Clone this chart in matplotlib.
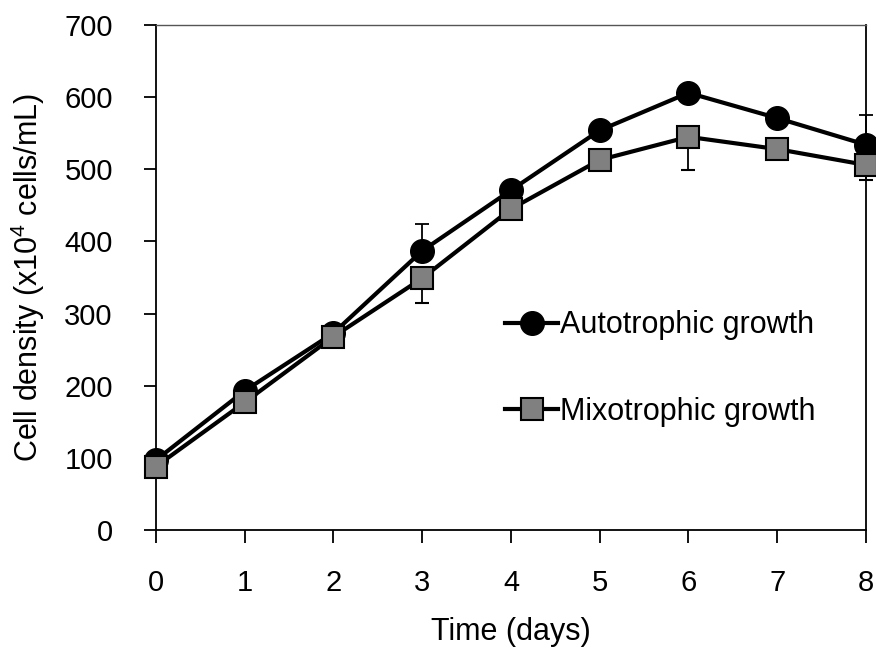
import matplotlib.pyplot as plt
from matplotlib.lines import Line2D

plt.rcParams['font.family'] = ['Liberation Sans', 'DejaVu Sans']
plt.rcParams['mathtext.default'] = 'regular'

days = [0, 1, 2, 3, 4, 5, 6, 7, 8]
autotrophic = [97, 193, 273, 387, 471, 554, 606, 571, 534]
auto_err_up = [4, 5, 5, 37, 6, 6, 8, 6, 41]
mixotrophic = [88, 177, 268, 349, 445, 513, 545, 528, 506]
mixo_err_down = [4, 5, 5, 34, 6, 6, 46, 6, 21]

fig = plt.figure(figsize=(8.76, 6.5), dpi=100)
ax = fig.add_axes([0.178, 0.1846, 0.8106, 0.7769])

ax.errorbar(days, autotrophic, yerr=[[0] * len(days), auto_err_up],
            color='black', linewidth=3, marker='o', markersize=17,
            markerfacecolor='black', markeredgecolor='black',
            ecolor='black', elinewidth=1.3, capsize=5, capthick=1.3,
            clip_on=False, zorder=3)
ax.errorbar(days, mixotrophic, yerr=[mixo_err_down, [0] * len(days)],
            color='black', linewidth=3, marker='s', markersize=16,
            markerfacecolor='#808080', markeredgecolor='black', markeredgewidth=1.5,
            ecolor='black', elinewidth=1.3, capsize=5, capthick=1.3,
            clip_on=False, zorder=4)

ax.set_xlim(0, 8)
ax.set_ylim(0, 700)
ax.set_xticks(days)
ax.set_yticks(range(0, 701, 100))
for s in ['left', 'bottom', 'right']:
    ax.spines[s].set_linewidth(1.3)
ax.spines['top'].set_linewidth(1.0)
ax.spines['top'].set_color('#555555')
ax.tick_params(direction='out', length=9, width=1.3, labelsize=21)
ax.tick_params(axis='y', pad=22)
ax.tick_params(axis='x', pad=19)

ax.set_xlabel('Time (days)', fontsize=22)
ax.set_ylabel('Cell density (x10$^4$ cells/mL)', fontsize=22)
ax.xaxis.set_label_coords(0.5, -0.172)
ax.yaxis.set_label_coords(-0.153, 0.5)

handles = [
    Line2D([], [], color='black', linewidth=3, marker='o', markersize=17,
           markerfacecolor='black', markeredgecolor='black'),
    Line2D([], [], color='black', linewidth=3, marker='s', markersize=16,
           markerfacecolor='#808080', markeredgecolor='black', markeredgewidth=1.5),
]
ax.legend(handles, ['Autotrophic growth', 'Mixotrophic growth'],
          loc='upper left', bbox_to_anchor=(0.4915, 0.435), frameon=False,
          fontsize=22, handlelength=1.75, handletextpad=0.05,
          labelspacing=1.85, borderaxespad=0, borderpad=0)

fig.savefig('out.png', dpi=100)
